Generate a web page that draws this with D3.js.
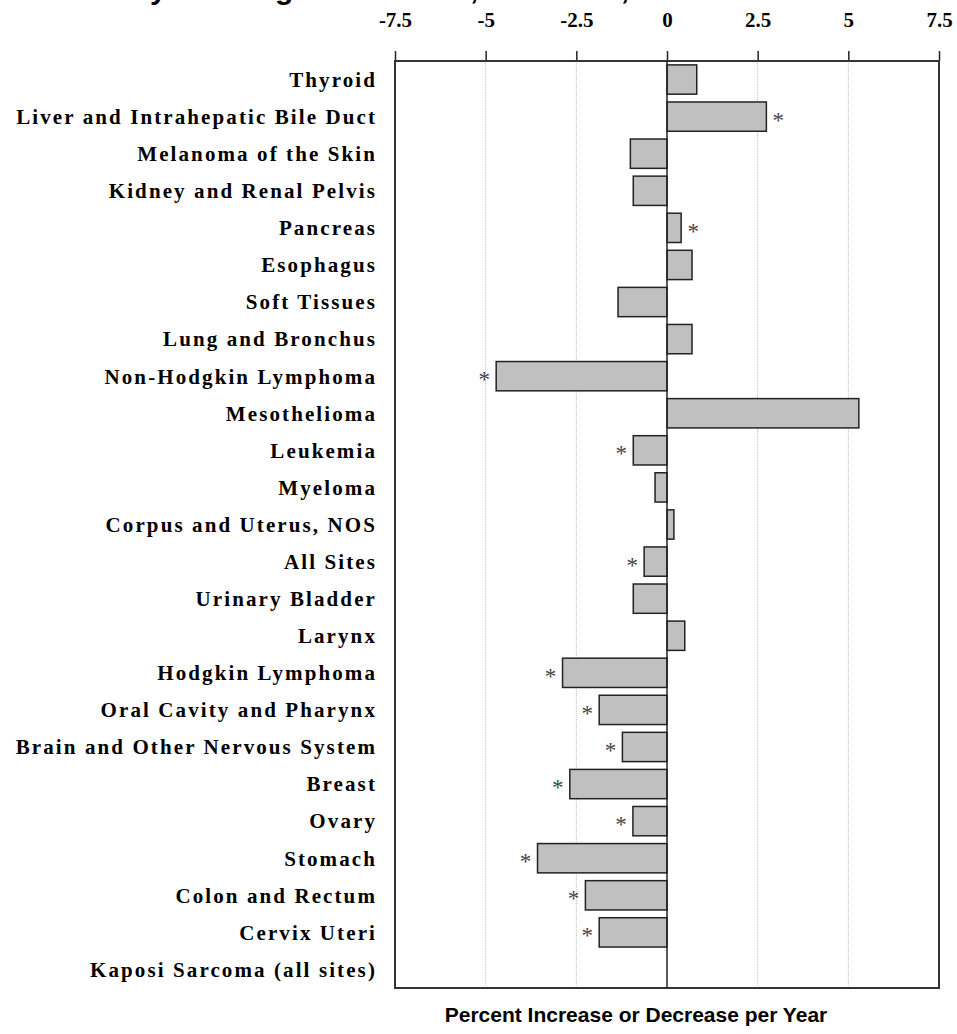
<!DOCTYPE html>
<html>
<head>
<meta charset="utf-8">
<script src="https://cdn.jsdelivr.net/npm/d3@7"></script>
<style>
  html, body { margin: 0; padding: 0; background: #fff; }
  svg { display: block; }
</style>
</head>
<body>
<svg id="chart" width="957" height="1034"></svg>
<script>
const titleText = "Trends by Ranking for Females, All Races, 2000-2019";
const categories = [
  "Thyroid", "Liver and Intrahepatic Bile Duct", "Melanoma of the Skin",
  "Kidney and Renal Pelvis", "Pancreas", "Esophagus", "Soft Tissues",
  "Lung and Bronchus", "Non-Hodgkin Lymphoma", "Mesothelioma", "Leukemia",
  "Myeloma", "Corpus and Uterus, NOS", "All Sites", "Urinary Bladder",
  "Larynx", "Hodgkin Lymphoma", "Oral Cavity and Pharynx",
  "Brain and Other Nervous System", "Breast", "Ovary", "Stomach",
  "Colon and Rectum", "Cervix Uteri", "Kaposi Sarcoma (all sites)"
];
const values = [
  0.82, 2.74, -1.01, -0.93, 0.39, 0.69, -1.35, 0.69, -4.71, 5.29, -0.93,
  -0.33, 0.19, -0.63, -0.93, 0.49, -2.88, -1.87, -1.23, -2.68, -0.94,
  -3.57, -2.25, -1.87, null
];
const significant = [
  false, true, false, false, true, false, false, false, true, false, true,
  false, false, true, false, false, true, true, true, true, true,
  true, true, true, false
];
const tickValues = [-7.5, -5, -2.5, 0, 2.5, 5, 7.5];
const tickLabels = ["-7.5", "-5", "-2.5", "0", "2.5", "5", "7.5"];
const axisTitle = "Percent Increase or Decrease per Year";

const svg = d3.select("#chart");
const plot = { left: 395, right: 939, top: 61, bottom: 988 };

const x = d3.scaleLinear().domain([-7.5, 7.5]).range([plot.left, plot.right]);
const y = d3.scaleBand().domain(categories).range([plot.top, plot.bottom]).paddingInner(0.21).paddingOuter(0.105);

// title (mostly cut off at the top, as in the original)
svg.append("text")
  .attr("x", 25).attr("y", -1)
  .attr("font-family", "Liberation Sans, Arial, sans-serif")
  .attr("font-weight", "bold").attr("font-size", 30)
  .attr("fill", "#000")
  .text(titleText);

// gridlines
svg.append("g")
  .selectAll("line")
  .data(tickValues.filter(v => v !== 0 && Math.abs(v) !== 7.5))
  .join("line")
  .attr("x1", d => x(d)).attr("x2", d => x(d))
  .attr("y1", plot.top).attr("y2", plot.bottom)
  .attr("stroke", "#bbb").attr("stroke-width", 1)
  .attr("stroke-dasharray", "1,1");

// top axis
const axis = d3.axisTop(x)
  .tickValues(tickValues)
  .tickFormat((d, i) => tickLabels[i])
  .tickSize(10)
  .tickPadding(24);
const gAxis = svg.append("g").attr("transform", `translate(0,${plot.top})`).call(axis);
gAxis.select(".domain").remove();
gAxis.selectAll(".tick line").attr("stroke", "#222").attr("stroke-width", 1.5);
gAxis.selectAll(".tick text")
  .attr("font-family", "Liberation Serif, 'Times New Roman', serif")
  .attr("font-weight", "bold").attr("font-size", 21).attr("fill", "#000");

// frame
svg.append("rect")
  .attr("x", plot.left).attr("y", plot.top)
  .attr("width", plot.right - plot.left).attr("height", plot.bottom - plot.top)
  .attr("fill", "none").attr("stroke", "#333").attr("stroke-width", 2);

const data = categories.map((c, i) => ({ c, v: values[i], s: significant[i] }));

// bars
svg.append("g")
  .selectAll("rect")
  .data(data.filter(d => d.v !== null))
  .join("rect")
  .attr("x", d => x(Math.min(0, d.v)))
  .attr("width", d => Math.abs(x(d.v) - x(0)))
  .attr("y", d => y(d.c))
  .attr("height", y.bandwidth())
  .attr("fill", "#c0c0c0")
  .attr("stroke", "#222").attr("stroke-width", 1.5);

// zero line
svg.append("line")
  .attr("x1", x(0)).attr("x2", x(0))
  .attr("y1", plot.top).attr("y2", plot.bottom)
  .attr("stroke", "#222").attr("stroke-width", 1.5);

// asterisks
svg.append("g")
  .selectAll("text")
  .data(data.filter(d => d.s && d.v !== null))
  .join("text")
  .attr("x", d => d.v >= 0 ? x(d.v) + 12 : x(d.v) - 12)
  .attr("y", d => y(d.c) + y.bandwidth() / 2 + 11)
  .attr("text-anchor", "middle")
  .attr("font-family", "Liberation Serif, 'Times New Roman', serif")
  .attr("font-size", 23).attr("fill", "#444")
  .text("*");

// category labels
svg.append("g")
  .selectAll("text")
  .data(categories)
  .join("text")
  .attr("x", 377)
  .attr("y", d => y(d) + y.bandwidth() / 2)
  .attr("dy", "0.35em")
  .attr("text-anchor", "end")
  .attr("font-family", "Liberation Serif, 'Times New Roman', serif")
  .attr("font-weight", "bold").attr("font-size", 21)
  .attr("letter-spacing", "2.1px")
  .attr("fill", "#000")
  .text(d => d);

// axis title
svg.append("text")
  .attr("x", 636).attr("y", 1022)
  .attr("text-anchor", "middle")
  .attr("font-family", "Liberation Sans, Arial, sans-serif")
  .attr("font-weight", "bold").attr("font-size", 21).attr("fill", "#000")
  .text(axisTitle);
</script>
</body>
</html>
